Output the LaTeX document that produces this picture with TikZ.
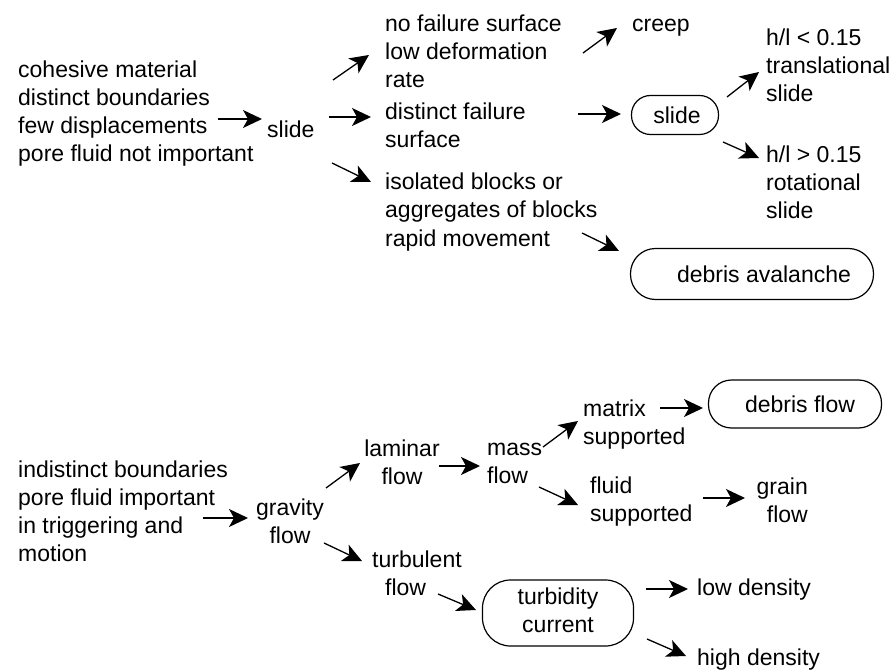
\documentclass[tikz,border=0pt]{standalone}
\usepackage{fontspec}
\setmainfont{Liberation Sans}
\usetikzlibrary{arrows.meta}
\newcommand{\lft}[1]{\begin{tabular}[t]{@{}l@{}}#1\end{tabular}}
\newcommand{\ctr}[1]{\begin{tabular}[t]{@{}c@{}}#1\end{tabular}}
\newcommand{\rgt}[1]{\begin{tabular}[t]{@{}r@{}}#1\end{tabular}}
\tikzset{
  txt/.style={inner sep=0pt, font=\fontsize{23}{28}\selectfont},
  tl/.style={txt, anchor=base west},
  tc/.style={txt, anchor=base},
  tr/.style={txt, anchor=base east},
  box/.style={draw, line width=1.2pt, inner sep=0pt, font=\fontsize{23}{28}\selectfont},
  arr/.style={line width=1.3pt, -{Stealth[length=19pt,width=18pt,inset=5pt]}},
}
\begin{document}
\begin{tikzpicture}[x=1pt,y=-1pt]
\useasboundingbox (0,0) rectangle (894,671);
% ---------- top ----------
\node[tl] (coh) at (18,78) {\lft{cohesive material\\distinct boundaries\\few displacements\\pore fluid not important}};
\node[tl] (slideA) at (267,138) {slide};
\node[tl] (nofail) at (385,32) {\lft{no failure surface\\low deformation\\rate}};
\node[tl] (distinct) at (385,120) {\lft{distinct failure\\surface}};
\node[tl] (isolated) at (385,190) {\lft{isolated blocks or\\aggregates of blocks\\rapid movement}};
\node[tl] (creep) at (632,32) {creep};
\node[box, minimum width=87pt, minimum height=39pt, rounded corners=19pt] (slideB) at (675,115) {\hspace*{4pt}slide};
\node[tl] (trans) at (766,46) {\lft{h/l < 0.15\\translational\\slide}};
\node[tl] (rot) at (766,163) {\lft{h/l > 0.15\\rotational\\slide}};
\node[box, minimum width=243pt, minimum height=51pt, rounded corners=25pt] (aval) at (752,274) {\hspace*{24pt}debris avalanche};

\coordinate (c1s) at (218,119); \coordinate (c1e) at (262,119);
\coordinate (c2s) at (333,80);  \coordinate (c2e) at (369,55);
\coordinate (c3s) at (329,117); \coordinate (c3e) at (371,117);
\coordinate (c4s) at (332,163); \coordinate (c4e) at (371,182);
\coordinate (c5s) at (583,53);  \coordinate (c5e) at (617,28);
\coordinate (c6s) at (578,114); \coordinate (c6e) at (621,114);
\coordinate (c7s) at (727,97);  \coordinate (c7e) at (759,72);
\coordinate (c8s) at (723,142); \coordinate (c8e) at (759,158);
\coordinate (c9s) at (582,233); \coordinate (c9e) at (619,251);
\draw[arr] (c1s) -- (c1e);
\draw[arr] (c2s) -- (c2e);
\draw[arr] (c3s) -- (c3e);
\draw[arr] (c4s) -- (c4e);
\draw[arr] (c5s) -- (c5e);
\draw[arr] (c6s) -- (c6e);
\draw[arr] (c7s) -- (c7e);
\draw[arr] (c8s) -- (c8e);
\draw[arr] (c9s) -- (c9e);
% ---------- bottom ----------
\node[tl] (indist) at (18,477) {\lft{indistinct boundaries\\pore fluid important\\in triggering and\\motion}};
\node[tc] (grav) at (290,515) {\ctr{gravity\\flow}};
\node[tc] (lam) at (402,456) {\ctr{laminar\\flow}};
\node[tl] (turb) at (372,567) {\lft{turbulent\\\hspace*{13pt}flow}};
\node[tl] (mass) at (487,455) {\lft{mass\\flow}};
\node[tl] (matrix) at (583,416) {\lft{matrix\\supported}};
\node[tl] (fluid) at (590,493) {\lft{fluid\\supported}};
\node[tr] (grain) at (808,494) {\rgt{grain\\flow}};
\node[box, minimum width=173pt, minimum height=48pt, rounded corners=23pt] (dflow) at (795,404) {\hspace*{10pt}debris flow};
\node[box, minimum width=151pt, minimum height=66pt, rounded corners=28pt] (turbid) at (558,613) {\raisebox{-3pt}{\ctr{turbidity\\current}}};
\node[tl] (low) at (697,595) {low density};
\node[tl] (high) at (697,665) {high density};

\coordinate (d1s) at (203,518); \coordinate (d1e) at (248,518);
\coordinate (d2s) at (326,488); \coordinate (d2e) at (360,463);
\coordinate (d3s) at (324,543); \coordinate (d3e) at (362,561);
\coordinate (d4s) at (439,466); \coordinate (d4e) at (480,466);
\coordinate (d5s) at (543,447); \coordinate (d5e) at (578,421);
\coordinate (d6s) at (539,487); \coordinate (d6e) at (578,505);
\coordinate (d7s) at (660,408); \coordinate (d7e) at (703,408);
\coordinate (d8s) at (703,498); \coordinate (d8e) at (745,498);
\coordinate (d9s) at (438,594); \coordinate (d9e) at (476,610);
\coordinate (d10s) at (646,589); \coordinate (d10e) at (688,589);
\coordinate (d11s) at (647,639); \coordinate (d11e) at (686,656);
\draw[arr] (d1s) -- (d1e);
\draw[arr] (d2s) -- (d2e);
\draw[arr] (d3s) -- (d3e);
\draw[arr] (d4s) -- (d4e);
\draw[arr] (d5s) -- (d5e);
\draw[arr] (d6s) -- (d6e);
\draw[arr] (d7s) -- (d7e);
\draw[arr] (d8s) -- (d8e);
\draw[arr] (d9s) -- (d9e);
\draw[arr] (d10s) -- (d10e);
\draw[arr] (d11s) -- (d11e);
\end{tikzpicture}
\end{document}
